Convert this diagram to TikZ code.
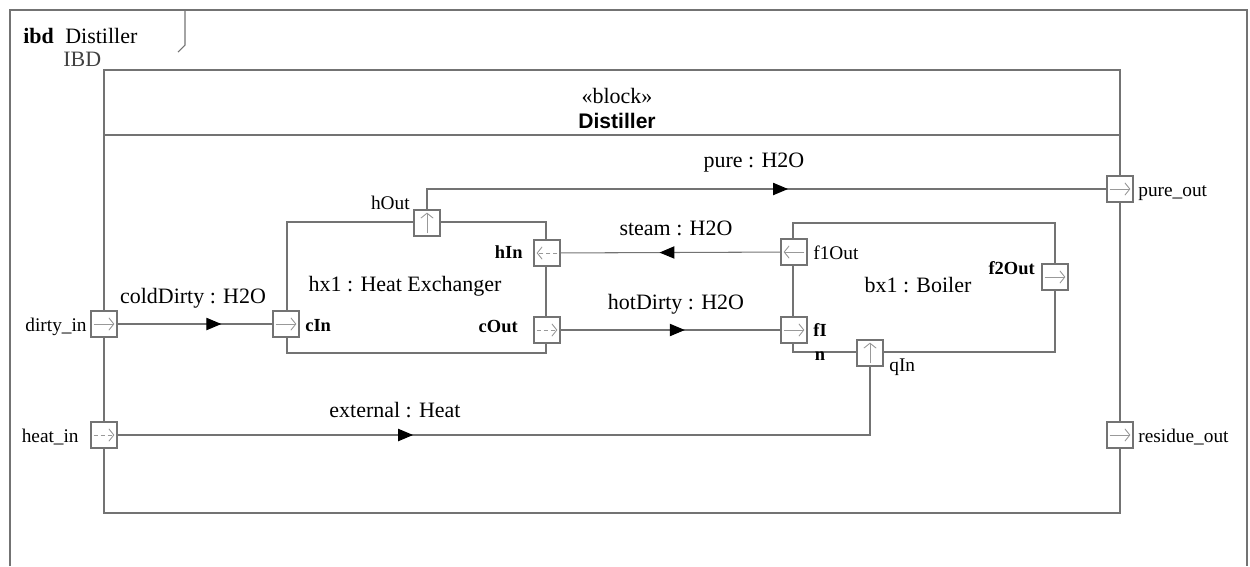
\documentclass[tikz,border=0pt]{standalone}
\usepackage{fontspec}
\setmainfont{Liberation Serif}
\newfontfamily\headfont{Liberation Sans}
\usetikzlibrary{arrows.meta,decorations.markings}

\tikzset{
  line/.style={draw=black!55, line width=0.6pt},
  port/.style={draw=black!55, fill=white, line width=0.6pt, minimum size=0.52cm, inner sep=0pt},
  parrow/.style={draw=black!40, line width=0.5pt, -{Straight Barb[length=2.8pt,width=7pt]}},
  pdash/.style={dash pattern=on 2.5pt off 1.5pt},
  portR/.style={port, path picture={\draw[parrow,#1] ([xshift=1.5pt]path picture bounding box.west) -- ([xshift=-1.5pt]path picture bounding box.east);}},
  portL/.style={port, path picture={\draw[parrow,#1] ([xshift=-1.5pt]path picture bounding box.east) -- ([xshift=1.5pt]path picture bounding box.west);}},
  portU/.style={port, path picture={\draw[parrow,#1] ([yshift=1.5pt]path picture bounding box.south) -- ([yshift=-1.5pt]path picture bounding box.north);}},
  portR/.default={}, portL/.default={}, portU/.default={},
  flow/.style={line, postaction={decorate}, decoration={markings,
      mark=at position #1 with {\arrow[draw=black,fill=black]{Triangle[length=8.5pt,width=7pt]}}}},
  lbl/.style={font=\fontsize{12.5}{14}\selectfont, inner sep=0pt},
  plbl/.style={font=\fontsize{11}{13}\selectfont, inner sep=0pt},
  pbold/.style={font=\fontsize{10.5}{12}\selectfont\bfseries, inner sep=0pt},
}

\begin{document}
\begin{tikzpicture}[x=0.02cm, y=-0.02cm]
  \useasboundingbox (0,0) rectangle (1250,566);

  % Frame
  \draw[line] (10,566) -- (10,10) -- (1247,10) -- (1247,566);
  \draw[line] (185,10) -- (185,45) -- (178,52);
  \node[lbl, anchor=base west] (ibd) at (23,43) {\textbf{ibd}};
  \node[lbl, anchor=base west] (ibdName) at (65,43) {Distiller};
  \node[lbl, anchor=base west, text=black!75] (ibdKind) at (63,66) {IBD};

  % Blocks
  \draw[line] (104,70) rectangle (1120,513);          % Distiller
  \draw[line] (104,135) -- (1120,135);
  \node[lbl] (stereo) at (617,96) {«block»};
  \node[inner sep=0pt, font=\headfont\fontsize{12}{14}\selectfont\bfseries] (title) at (617,121) {Distiller};
  \draw[line] (287,222) rectangle (546,353);          % hx1
  \draw[line] (793,223) rectangle (1055,352);         % bx1
  \node[lbl] (hx1) at (405,286) {hx1 : Heat Exchanger};
  \node[lbl] (bx1) at (918,285) {bx1 : Boiler};

  % Ports
  \node[portR] (dirtyIn) at (104,324) {};            % left border
  \node[portR=pdash] (heatIn) at (104,435) {};       % left border
  \node[portR] (pureOut) at (1120,189) {};           % right border
  \node[portR] (residueOut) at (1120,435) {};        % right border
  \node[portU] (hOut) at (427,223) {};               % hx1 top
  \node[portL=pdash] (hIn) at (547,253) {};          % hx1 right
  \node[portR] (cIn) at (286,324) {};                % hx1 left
  \node[portR=pdash] (cOut) at (547,330) {};         % hx1 right
  \node[portL] (f1Out) at (794,252) {};              % bx1 left
  \node[portR] (fI) at (794,330) {};                 % bx1 left
  \node[portR] (f2Out) at (1055,277) {};             % bx1 right
  \node[portU] (qIn) at (870,353) {};                % bx1 bottom

  % Port labels
  \node[plbl, anchor=east] (lDirtyIn) at (87,327) {dirty\_in};
  \node[plbl, anchor=east] (lHeatIn) at (79,437) {heat\_in};
  \node[plbl, anchor=west] (lPureOut) at (1138,193) {pure\_out};
  \node[plbl, anchor=west] (lResidueOut) at (1138,437) {residue\_out};
  \node[plbl, anchor=east] (lHOut) at (410,203) {hOut};
  \node[pbold, anchor=east] (lHIn) at (523,252) {hIn};
  \node[pbold, anchor=west] (lCIn) at (305,326) {cIn};
  \node[pbold, anchor=east] (lCOut) at (518,326) {cOut};
  \node[plbl, anchor=west] (lF1Out) at (813,253) {f1Out};
  \node[pbold, anchor=east] (lF2Out) at (1035,268) {f2Out};
  \node[pbold, anchor=west] (lFI) at (813,330) {fI};
  \node[pbold] (lN) at (820,356) {n};
  \node[plbl, anchor=west] (lQIn) at (889,367) {qIn};

  % Connectors
  \draw[flow=0.67] (dirtyIn) -- (cIn);
  \draw[flow=0.565] (cOut) -- (fI);
  \draw[flow=0.55] (f1Out) -- (hIn);
  \draw[flow=0.545] (hOut) |- (pureOut);
  \draw[flow=0.36] (heatIn) -| (qIn);

  % Connector labels
  \node[lbl] (lCold) at (193,298) {coldDirty : H2O};
  \node[lbl] (lHot) at (676,304) {hotDirty : H2O};
  \node[lbl] (lSteam) at (676,228) {steam : H2O};
  \node[lbl] (lPure) at (754,163) {pure : H2O};
  \node[lbl] (lExt) at (395,410) {external : Heat};
\end{tikzpicture}
\end{document}
